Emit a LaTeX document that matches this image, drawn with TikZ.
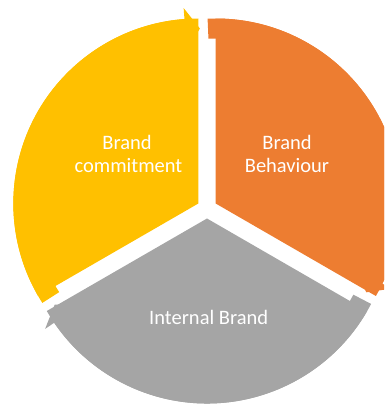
\documentclass[tikz,border=0pt]{standalone}
\usepackage{fontspec}
\setmainfont{Carlito}
\definecolor{cyellow}{HTML}{FFC000}
\definecolor{corange}{HTML}{ED7D31}
\definecolor{cgray}{HTML}{A5A5A5}
\begin{document}
\begin{tikzpicture}[x=1pt,y=1pt,
  lbl/.style={text=white,font=\fontsize{20.5}{24}\selectfont,anchor=base,inner sep=0pt}]
\useasboundingbox (0,0) rectangle (384,408);
\clip (0,0) rectangle (384,408);
% segment: pie wedge + outer circular arrow band, head at local angle 0
\newcommand{\cycseg}[4]{%
  \begin{scope}[shift={(#2,#3)},rotate=#4]
    \fill[#1] (0,0) -- (0:185pt) arc[start angle=0,end angle=120,radius=185pt] -- cycle;
    \fill[#1] (122.5:185pt) arc[start angle=122.5,end angle=4.3,radius=185pt]
      -- (4.3:196pt) -- (-0.5:175pt) -- (4.3:154pt) -- (4.3:165pt)
      arc[start angle=4.3,end angle=122.5,radius=165pt] -- cycle;
  \end{scope}}
\cycseg{cyellow}{198.34}{204.5}{90}
\cycseg{corange}{215.66}{204.5}{-30}
\cycseg{cgray}{207}{189.5}{210}
\node[lbl] (y1) at (127,258) {Brand};
\node[lbl] (y2) at (128.5,235) {commitment};
\node[lbl] (o1) at (287,258) {Brand};
\node[lbl] (o2) at (287,235) {Behaviour};
\node[lbl] (g1) at (208.7,83) {Internal Brand};
\end{tikzpicture}
\end{document}
